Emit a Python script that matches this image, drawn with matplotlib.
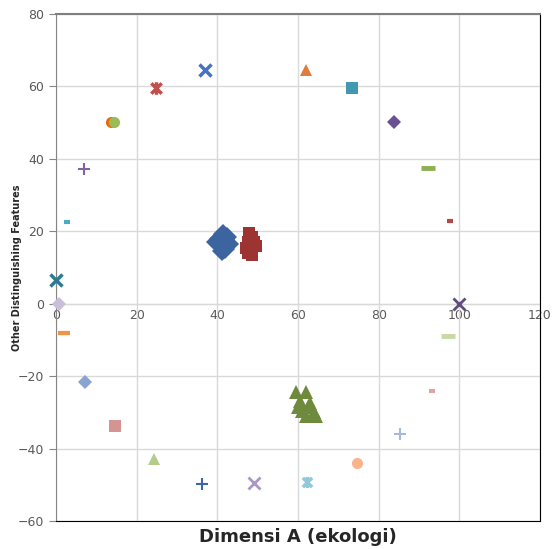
import matplotlib
matplotlib.use('agg')
import matplotlib.pyplot as plt
from matplotlib.path import Path

# clusters of overlapping points
blue_x = [41.5, 40.3, 39.8, 42.0, 41.0, 42.8, 42.0, 41.2, 40.6, 42.3]
blue_y = [19.3, 18.0, 17.0, 17.5, 16.0, 16.5, 15.0, 14.5, 16.5, 18.3]
red_x = [47.8, 48.5, 47.5, 49.0, 47.0, 48.5, 47.5, 48.5, 49.5, 48.0]
red_y = [19.5, 18.5, 17.0, 17.0, 15.5, 15.5, 14.0, 13.5, 16.0, 16.0]
green_x = [59.5, 62.0, 60.5, 63.0, 61.0, 64.0, 62.0, 60.0, 64.5, 62.5]
green_y = [-24.5, -24.5, -27.0, -27.5, -29.5, -30.0, -31.0, -28.5, -31.0, -28.5]

# single points around the circle
single_x = [37.0, 24.8, 62.0, 73.4, 83.9, 92.3, 97.8, 100.0, 97.3, 93.3, 85.4, 74.7,
            62.3, 49.1, 36.2, 24.3, 14.6, 7.2, 2.0, 0.7, 0.0, 2.7, 7.0, 13.6, 14.4]
single_y = [64.6, 59.7, 64.6, 59.7, 50.3, 37.6, 22.9, 0.0, -8.8, -24.0, -35.9, -43.9,
            -49.2, -49.4, -49.7, -42.8, -33.7, -21.5, -8.0, 0.0, 6.6, 22.6, 37.3, 50.2, 50.2]

xticks = [0, 20, 40, 60, 80, 100, 120]
yticks = [-60, -40, -20, 0, 20, 40, 60, 80]

star = Path([(-1, -1), (1, 1), (-1, 1), (1, -1), (0, -1.2), (0, 1.2)],
            [Path.MOVETO, Path.LINETO, Path.MOVETO, Path.LINETO, Path.MOVETO, Path.LINETO])

# marker, colour, size, edge width for each single point
styles = [
    ('x', '#4472C4', 8, 2.5),
    (star, '#C0504D', 9, 2.5),
    ('^', '#E07B39', 8, 1),
    ('s', '#4198AF', 8, 1),
    ('D', '#6B5194', 7, 1),
    ('_', '#8DB04F', 10, 3.5),
    ('_', '#B94744', 5, 3),
    ('x', '#5F4B7E', 8, 2),
    ('_', '#C9D9A6', 10, 3.5),
    ('_', '#DDA5A4', 5, 3),
    ('+', '#A5BBDC', 8, 1.5),
    ('o', '#F8B48B', 8, 1),
    (star, '#8FC9DA', 8, 2.5),
    ('x', '#A898C2', 8, 2),
    ('+', '#3D66A8', 8, 1.5),
    ('^', '#B3CC8A', 8, 1),
    ('s', '#D49492', 8, 1),
    ('D', '#8AA3D1', 7, 1),
    ('_', '#F59140', 8, 3),
    ('D', '#C9BFDB', 7, 1),
    ('x', '#2E7B8F', 8, 2.5),
    ('_', '#4BACC6', 5, 3),
    ('+', '#8064A2', 8, 1.5),
    ('o', '#E46C0A', 8, 1),
    ('o', '#9BBB59', 8, 1),
]

fig = plt.figure(figsize=(5.52, 5.49), dpi=100)
ax = fig.add_axes([0.1014, 0.051, 0.8768, 0.9235])

ax.grid(True, color='#D9D9D9', linewidth=1)
ax.set_axisbelow(True)

ax.plot(blue_x, blue_y, 'D', color='#3B64A0', markersize=10, markeredgewidth=0, linestyle='none')
ax.plot(red_x, red_y, 's', color='#9E3431', markersize=9, markeredgewidth=0, linestyle='none')
ax.plot(green_x, green_y, '^', color='#6E8B3D', markersize=10, markeredgewidth=0, linestyle='none')

for x, y, (m, c, s, w) in zip(single_x, single_y, styles):
    if m in ('x', '+', '_') or m is star:
        ax.plot(x, y, marker=m, color=c, markersize=s, markeredgewidth=w,
                linestyle='none', clip_on=False, zorder=3)
    else:
        ax.plot(x, y, marker=m, color=c, markersize=s, markeredgewidth=0,
                linestyle='none', clip_on=False, zorder=3)

ax.set_xlim(0, 120)
ax.set_ylim(-60, 80)
ax.set_yticks(yticks)
ax.set_xticks(xticks)
ax.tick_params(axis='x', bottom=False, labelbottom=False)
ax.tick_params(axis='y', direction='out', length=5, color='#868686', labelsize=9,
               labelcolor='#595959')

# horizontal axis crossing at y = 0
sec = ax.secondary_xaxis(60 / 140)
sec.set_xticks(xticks)
sec.tick_params(length=0, labelsize=9, labelcolor='#595959', pad=4)
sec.spines['bottom'].set_color('#A6A6A6')

ax.spines['left'].set_color('#868686')
ax.spines['top'].set_color('#7F7F7F')
ax.spines['top'].set_linewidth(1.5)
ax.spines['right'].set_color('black')
ax.spines['bottom'].set_color('black')

fig.text(0.54, 0.022, 'Dimensi A (ekologi)', ha='center', va='center',
         fontsize=13, fontweight='bold', color='#262626')
fig.text(0.031, 0.513, 'Other Distinguishing Features', ha='center', va='center',
         rotation=90, fontsize=7, fontweight='bold', color='#262626')

plt.savefig('out.png')
